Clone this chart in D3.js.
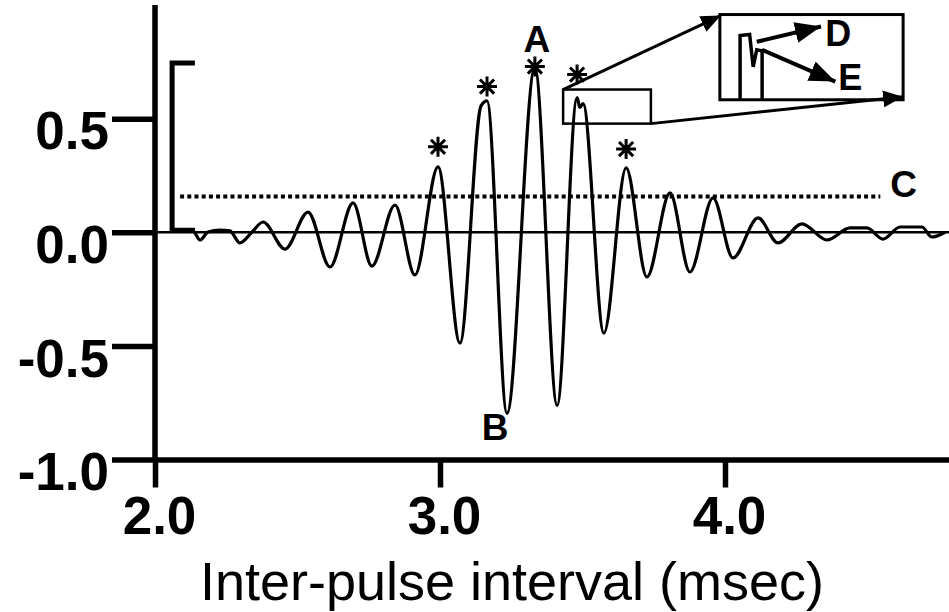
<!DOCTYPE html>
<html>
<head>
<meta charset="utf-8">
<script src="https://cdn.jsdelivr.net/npm/d3@7"></script>
<style>
  html, body { margin: 0; padding: 0; background: #fff; }
  svg { display: block; font-family: "Liberation Sans", Arial, Helvetica, sans-serif; }
</style>
</head>
<body>
<svg id="chart" width="949" height="612"></svg>
<script>
// Autocorrelation-style trace versus inter-pulse interval (msec)
const timeMs = [2.070, 2.133, 2.158, 2.186, 2.228, 2.263, 2.298, 2.340, 2.379, 2.456,
                2.537, 2.614, 2.695, 2.761, 2.842, 2.912, 2.993, 3.070, 3.144, 3.165,
                3.235, 3.333, 3.411, 3.481, 3.491, 3.502, 3.575, 3.653, 3.726, 3.807,
                3.877, 3.958, 4.028, 4.116, 4.186, 4.270, 4.358, 4.439, 4.498, 4.554,
                4.614, 4.691, 4.726, 4.772];
const amplitude = [0.006, 0.006, -0.034, 0.001, 0.010, 0.006, -0.047, 0.000, 0.045, -0.074,
                   0.089, -0.153, 0.129, -0.149, 0.120, -0.188, 0.288, -0.488, 0.556, 0.578,
                   -0.797, 0.725, -0.762, 0.593, 0.549, 0.566, -0.444, 0.283, -0.197, 0.173,
                   -0.175, 0.151, -0.113, 0.063, -0.047, 0.037, -0.034, 0.019, 0.019, -0.030,
                   0.023, 0.023, -0.021, 0.000];

// Significant peaks, marked with asterisks
const starTimes  = [2.993, 3.165, 3.333, 3.481, 3.653];
const starLevels = [0.376, 0.641, 0.729, 0.694, 0.366];

// Axis ticks
const xTicks = [2, 3, 4];
const yTicks = [-1, -0.5, 0, 0.5];
const xDomain = [2, 4.786];
const yDomain = [-1, 1];

// Threshold (C) and scale bracket
const thresholdLevel = 0.157;
const thresholdSpan = [2.088, 4.545];
const bracketSpan = [2.060, 2.140];
const bracketTop = 0.745;

// Letter labels: [text, time, level]
const letterLabels = [["A", 3.340, 0.793], ["B", 3.193, -0.914]];
const thresholdLabel = ["C", 4.580, 0.155];

// Zoomed region and its enlarged inset (main-axis units)
const zoomT = [3.432, 3.740];
const zoomV = [0.478, 0.628];
const insetBoxT = [3.982, 4.625];
const insetBoxV = [0.583, 0.958];

// Enlarged detail of the split peak (zoomed-region units)
const insetTime  = [3.466, 3.466, 3.482, 3.488, 3.494, 3.503, 3.503];
const insetLevel = [0.480, 0.591, 0.593, 0.536, 0.566, 0.564, 0.480];
// Sub-peak arrows: [label, fromT, fromV, toT, toV, labelT, labelV]
const subPeakArrows = [
  ["D", 3.494, 0.580, 3.602, 0.607, 3.609, 0.572],
  ["E", 3.503, 0.566, 3.626, 0.510, 3.631, 0.496]
];

const svg = d3.select("#chart");
const ink = "#000";

const x = d3.scaleLinear().domain(xDomain).range([155, 949]);
const y = d3.scaleLinear().domain(yDomain).range([459.5, 5]);

const defs = svg.append("defs");
function marker(id, len, wid) {
  defs.append("marker")
    .attr("id", id)
    .attr("viewBox", `0 0 ${len} ${wid}`)
    .attr("refX", len).attr("refY", wid / 2)
    .attr("markerWidth", len).attr("markerHeight", wid)
    .attr("markerUnits", "userSpaceOnUse")
    .attr("orient", "auto")
    .append("path")
    .attr("d", `M0,0L${len},${wid / 2}L0,${wid}Z`)
    .attr("fill", ink);
}
marker("headSmall", 20, 17);
marker("headBig", 26, 21);

// Zero line
svg.append("line")
  .attr("x1", x(xDomain[0])).attr("x2", x(xDomain[1]))
  .attr("y1", y(0)).attr("y2", y(0))
  .attr("stroke", ink).attr("stroke-width", 2.5);

// Threshold line C
svg.append("line")
  .attr("x1", x(thresholdSpan[0])).attr("x2", x(thresholdSpan[1]))
  .attr("y1", y(thresholdLevel)).attr("y2", y(thresholdLevel))
  .attr("stroke", ink).attr("stroke-width", 4)
  .attr("stroke-dasharray", "4,3.2");

// Amplitude bracket
svg.append("path")
  .attr("d", `M${x(bracketSpan[1])},${y(bracketTop)}H${x(bracketSpan[0])}V${y(0) - 2}H${x(bracketSpan[1])}`)
  .attr("fill", "none").attr("stroke", ink).attr("stroke-width", 5);

// Main trace
const trace = timeMs.map((t, i) => [t, amplitude[i]]);
svg.append("path")
  .datum(trace)
  .attr("d", d3.line().x(d => x(d[0])).y(d => y(d[1])).curve(d3.curveMonotoneX))
  .attr("fill", "none").attr("stroke", ink)
  .attr("stroke-width", 3.2).attr("stroke-linejoin", "round");

// Axes
const fmt = d => d.toFixed(1);
const yAxis = svg.append("g")
  .attr("transform", `translate(${x(xDomain[0])},0)`)
  .call(d3.axisLeft(y).tickValues(yTicks).tickSize(43).tickSizeOuter(0).tickPadding(3).tickFormat(fmt));
const xAxis = svg.append("g")
  .attr("transform", `translate(0,${y(-1)})`)
  .call(d3.axisBottom(x).tickValues(xTicks).tickSize(28).tickSizeOuter(0).tickFormat(fmt));

[yAxis, xAxis].forEach(g => {
  g.select(".domain").attr("stroke", ink).attr("stroke-width", 5.5);
  g.selectAll(".tick line").attr("stroke", ink).attr("stroke-width", 5.5);
  g.selectAll(".tick text")
    .attr("fill", ink)
    .attr("font-family", "'Liberation Sans', Arial, sans-serif")
    .attr("font-size", 53).attr("font-weight", "bold");
});
yAxis.select(".domain").attr("d", `M0,${y(-1) + 2}V${y(yDomain[1])}`);
yAxis.selectAll(".tick text").attr("dy", "0.57em");
xAxis.selectAll(".tick text").attr("y", 74).attr("dy", 0).attr("dx", 4);

// Axis title
svg.append("text")
  .attr("x", 512).attr("y", 600)
  .attr("text-anchor", "middle")
  .attr("font-size", 54)
  .attr("fill", ink)
  .text("Inter-pulse interval (msec)");

// Asterisks
const starPath = (cx, cy, r) => {
  const p = d3.path();
  for (let k = 0; k < 4; k++) {
    const a = k * Math.PI / 4;
    p.moveTo(cx - r * Math.cos(a), cy - r * Math.sin(a));
    p.lineTo(cx + r * Math.cos(a), cy + r * Math.sin(a));
  }
  return p.toString();
};
svg.append("g").selectAll("path")
  .data(starTimes.map((t, i) => [t, starLevels[i]]))
  .join("path")
  .attr("d", d => starPath(x(d[0]), y(d[1]), 10))
  .attr("stroke", ink).attr("stroke-width", 3).attr("fill", "none");

// Letter labels
svg.append("g").selectAll("text")
  .data(letterLabels)
  .join("text")
  .attr("x", d => x(d[1])).attr("y", d => y(d[2]))
  .attr("text-anchor", "middle")
  .attr("font-size", 37).attr("font-weight", "bold").attr("fill", ink)
  .text(d => d[0]);
svg.append("text")
  .attr("x", x(thresholdLabel[1])).attr("y", y(thresholdLabel[2]))
  .attr("font-size", 37).attr("font-weight", "bold").attr("fill", ink)
  .text(thresholdLabel[0]);

// Zoomed region outline
svg.append("rect")
  .attr("x", x(zoomT[0])).attr("y", y(zoomV[1]))
  .attr("width", x(zoomT[1]) - x(zoomT[0])).attr("height", y(zoomV[0]) - y(zoomV[1]))
  .attr("fill", "none").attr("stroke", ink).attr("stroke-width", 2.5);

// Inset frame
const bx0 = x(insetBoxT[0]), bx1 = x(insetBoxT[1]);
const by0 = y(insetBoxV[1]), by1 = y(insetBoxV[0]);
svg.append("rect")
  .attr("x", bx0).attr("y", by0)
  .attr("width", bx1 - bx0).attr("height", by1 - by0)
  .attr("fill", "#fff").attr("stroke", ink).attr("stroke-width", 3);

// Lines linking the region to the inset
svg.append("line")
  .attr("x1", x(zoomT[0])).attr("y1", y(zoomV[1]))
  .attr("x2", bx0 + 1).attr("y2", by0 + 1)
  .attr("stroke", ink).attr("stroke-width", 3).attr("marker-end", "url(#headSmall)");
svg.append("line")
  .attr("x1", x(zoomT[1])).attr("y1", y(zoomV[0]))
  .attr("x2", bx1).attr("y2", by1 - 3)
  .attr("stroke", ink).attr("stroke-width", 3).attr("marker-end", "url(#headSmall)");

// Inset scales and enlarged trace
const xi = d3.scaleLinear().domain(zoomT).range([bx0, bx1]);
const yi = d3.scaleLinear().domain(zoomV).range([by1, by0]);
svg.append("path")
  .datum(insetTime.map((t, i) => [t, insetLevel[i]]))
  .attr("d", d3.line().x(d => xi(d[0])).y(d => yi(d[1])))
  .attr("fill", "none").attr("stroke", ink).attr("stroke-width", 3.5);

const sub = svg.append("g");
sub.selectAll("line")
  .data(subPeakArrows)
  .join("line")
  .attr("x1", d => xi(d[1])).attr("y1", d => yi(d[2]))
  .attr("x2", d => xi(d[3])).attr("y2", d => yi(d[4]))
  .attr("stroke", ink).attr("stroke-width", 4).attr("marker-end", "url(#headBig)");
sub.selectAll("text")
  .data(subPeakArrows)
  .join("text")
  .attr("x", d => xi(d[5])).attr("y", d => yi(d[6]))
  .attr("font-size", 36).attr("font-weight", "bold").attr("fill", ink)
  .text(d => d[0]);
</script>
</body>
</html>
